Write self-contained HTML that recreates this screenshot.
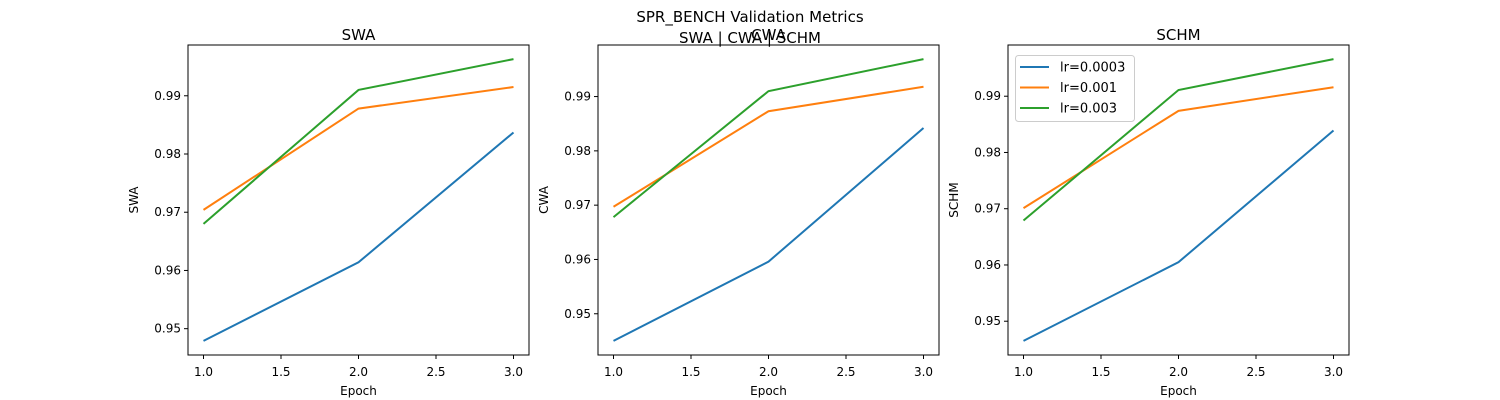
<!DOCTYPE html>
<html><head><meta charset="utf-8">
<style>body{margin:0;background:#fff}svg{display:block;font-family:"DejaVu Sans","Liberation Sans",sans-serif}</style>
</head><body>
<svg id="chart" width="1500" height="400">
<text x="750" y="22" font-size="15" text-anchor="middle">SPR_BENCH Validation Metrics</text>
<text x="750" y="43" font-size="15" text-anchor="middle">SWA | CWA | SCHM</text>
</svg>
<script>
const epochs = [1, 2, 3];
const seriesLabels = ["lr=0.0003", "lr=0.001", "lr=0.003"];
const colors = ["#1f77b4", "#ff7f0e", "#2ca02c"];
const panelNames = ["SWA", "CWA", "SCHM"];
const swaValues = [[0.9479, 0.9614, 0.9837], [0.9704, 0.9878, 0.9915], [0.9680, 0.9910, 0.9963]];
const cwaValues = [[0.9450, 0.9596, 0.9842], [0.9697, 0.9873, 0.9918], [0.9678, 0.9910, 0.9969]];
const schmValues = [[0.9465, 0.9605, 0.9839], [0.9701, 0.9874, 0.9916], [0.9679, 0.9911, 0.9966]];
const yTicks = [0.95, 0.96, 0.97, 0.98, 0.99];
const xTicks = [1.0, 1.5, 2.0, 2.5, 3.0];

const svg = document.getElementById('chart');
const NS = 'http://www.w3.org/2000/svg';
function mk(tag, attrs, parent) {
  const e = document.createElementNS(NS, tag);
  for (const k in attrs) e.setAttribute(k, attrs[k]);
  (parent || svg).appendChild(e);
  return e;
}
const panels = [swaValues, cwaValues, schmValues];
const lefts = [188, 598, 1008];
const W = 341, plotTop = 45, plotBottom = 355;
panels.forEach((vals, p) => {
  const g = mk('g', {});
  
  
  const L = lefts[p];
  const all = vals.flat();
  const mn = Math.min(...all), mx = Math.max(...all), r = mx - mn;
  const y0 = mn - 0.05 * r, y1 = mx + 0.05 * r;
  const xs = v => L + (v - 0.9) / 2.2 * W;
  const ys = v => plotBottom - (v - y0) / (y1 - y0) * (plotBottom - plotTop);
  const t = mk('text', {x: L + W / 2, y: 40, 'font-size': 15, 'text-anchor': 'middle'}, g);
  t.textContent = panelNames[p];
  
  
  xTicks.forEach(v => {
    const x = xs(v);
    mk('line', {x1: x, x2: x, y1: plotBottom, y2: plotBottom + 4, stroke: '#000'}, g);
    const tt = mk('text', {x: x, y: plotBottom + 21, 'font-size': 12, 'text-anchor': 'middle'}, g);
    tt.textContent = v.toFixed(1);
    
    
  });
  yTicks.forEach(v => {
    const y = ys(v);
    if (y < plotTop || y > plotBottom) return;
    mk('line', {x1: L - 4, x2: L, y1: y, y2: y, stroke: '#000'}, g);
    const tt = mk('text', {x: L - 7, y: y + 4, 'font-size': 12, 'text-anchor': 'end'}, g);
    tt.textContent = v.toFixed(2);
    
    
  });
  const xl = mk('text', {x: L + W / 2, y: 395, 'font-size': 12, 'text-anchor': 'middle'}, g);
  xl.textContent = 'Epoch';
  
  
  const yl = mk('text', {x: 0, y: 0, 'font-size': 12, 'text-anchor': 'middle', transform: `translate(${L - 50},${(plotTop + plotBottom) / 2}) rotate(-90)`}, g);
  yl.textContent = panelNames[p];
  
  
  vals.forEach((s, i) => {
    const pl = mk('polyline', {points: s.map((v, j) => xs(epochs[j]) + ',' + ys(v)).join(' '), fill: 'none', stroke: colors[i], 'stroke-width': 2}, g);
    
    
  });
  mk('rect', {x: L, y: plotTop, width: W, height: plotBottom - plotTop, fill: 'none', stroke: '#000', 'stroke-width': 1}, g);
  if (p === 2) {
    const lg = mk('g', {}, g);
    
    
    mk('rect', {x: 1015.5, y: 55.5, width: 119, height: 66, fill: '#fff', stroke: '#ccc', rx: 3}, lg);
    seriesLabels.forEach((s, i) => {
      const y = 67 + i * 20.5;
      mk('line', {x1: 1020, x2: 1049, y1: y, y2: y, stroke: colors[i], 'stroke-width': 2}, lg);
      const tt = mk('text', {x: 1060, y: y + 4.5, 'font-size': 13}, lg);
      tt.textContent = s;
      
      
    });
  }
});
</script>
</body></html>
